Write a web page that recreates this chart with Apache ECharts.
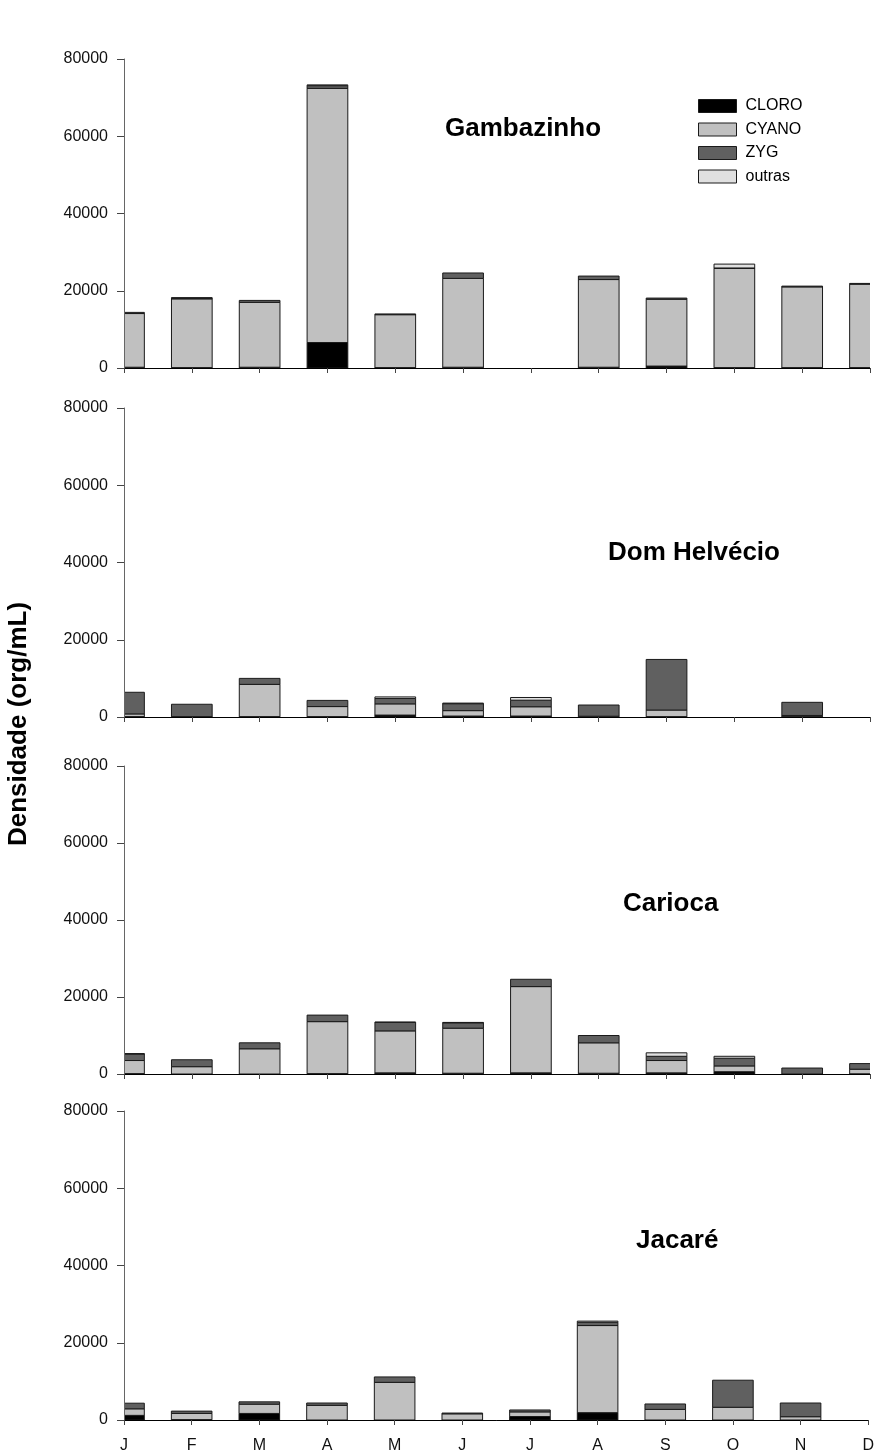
<!DOCTYPE html>
<html>
<head>
<meta charset="utf-8">
<script src="https://cdn.jsdelivr.net/npm/echarts@6/dist/echarts.min.js"></script>
<style>
html,body{margin:0;padding:0;background:#fff;}
#chart{width:877px;height:1455px;}
</style>
</head>
<body>
<div id="chart"></div>
<script>
// ---- DATA ----
const months = ['J','F','M','A','M','J','J','A','S','O','N','D'];
const seriesNames = ['CLORO','CYANO','ZYG','outras'];
const lakeNames = ['Gambazinho','Dom Helvécio','Carioca','Jacaré'];
const yTicks = [0, 20000, 40000, 60000, 80000];
const yAxisTitle = 'Densidade (org/mL)';

const gambazinhoCLORO  = [200, 100, 200, 6600, 100, 200, 0, 200, 500, 100, 100, 100];
const gambazinhoCYANO  = [13900, 17800, 16800, 65800, 13700, 23000, 0, 22700, 17300, 25700, 20900, 21600];
const gambazinhoZYG    = [300, 200, 500, 700, 200, 1400, 0, 900, 300, 100, 200, 200];
const gambazinhoOutras = [0, 100, 0, 200, 0, 0, 0, 0, 0, 1000, 0, 0];

const domHelvecioCLORO  = [100, 0, 100, 100, 500, 250, 250, 0, 100, 0, 100, 0];
const domHelvecioCYANO  = [700, 100, 8350, 2600, 2900, 1400, 2400, 200, 1700, 0, 300, 0];
const domHelvecioZYG    = [5600, 3200, 1550, 1600, 1400, 1800, 1700, 2900, 13100, 0, 3400, 0];
const domHelvecioOutras = [0, 0, 0, 0, 400, 150, 700, 0, 0, 0, 0, 0];

const cariocaCLORO  = [100, 0, 0, 100, 300, 200, 300, 200, 300, 600, 0, 50];
const cariocaCYANO  = [3400, 1900, 6550, 13500, 10900, 11700, 22400, 7900, 3200, 1500, 0, 1200];
const cariocaZYG    = [1700, 1800, 1550, 1700, 2200, 1400, 1900, 1900, 1100, 2000, 1550, 1450];
const cariocaOutras = [100, 0, 0, 0, 100, 100, 0, 0, 900, 500, 0, 0];

const jacareCLORO  = [1200, 100, 1700, 0, 0, 0, 900, 1900, 0, 0, 0, 0];
const jacareCYANO  = [1700, 1600, 2400, 3800, 9750, 1600, 1200, 22550, 2750, 3300, 850, 0];
const jacareZYG    = [1450, 600, 600, 600, 1400, 200, 500, 850, 1400, 7000, 3550, 0];
const jacareOutras = [0, 0, 0, 0, 0, 0, 0, 300, 0, 0, 0, 0];

const panelData = [
  [gambazinhoCLORO, gambazinhoCYANO, gambazinhoZYG, gambazinhoOutras],
  [domHelvecioCLORO, domHelvecioCYANO, domHelvecioZYG, domHelvecioOutras],
  [cariocaCLORO, cariocaCYANO, cariocaZYG, cariocaOutras],
  [jacareCLORO, jacareCYANO, jacareZYG, jacareOutras]
];

// ---- LAYOUT / STYLE ----
const FONT = '"Liberation Sans", Arial, Helvetica, sans-serif';
const colors = ['#000000', '#c0c0c0', '#606060', '#e0e0e0'];
const gridTops = [59, 408, 766, 1111];
const gridHeights = [309, 309, 308, 309];
const titlePos = [[445, 131], [608, 555], [623, 906], [636, 1243]];
const BAR_RATIO = 0.6;

function renderSegment(params, api) {
  const x = api.value(0), lo = api.value(1), hi = api.value(2);
  if (!(hi > lo)) return null;
  const pLo = api.coord([x, lo]);
  const pHi = api.coord([x, hi]);
  const bw = api.size([1, 0], [x, lo])[0] * BAR_RATIO;
  return {
    type: 'rect',
    shape: { x: pLo[0] - bw / 2, y: pHi[1], width: bw, height: pLo[1] - pHi[1] },
    style: api.style()
  };
}

const grids = [], xAxes = [], yAxes = [], series = [], graphics = [];
for (let p = 0; p < 4; p++) {
  grids.push({ left: 124, right: 7, top: gridTops[p], height: gridHeights[p], containLabel: false });
  xAxes.push({
    type: 'category', gridIndex: p, data: months, boundaryGap: false,
    axisLine: { show: true, lineStyle: { color: '#000', width: 1 } },
    axisTick: { show: true, interval: 0, length: 5, lineStyle: { color: '#444' } },
    axisLabel: { show: p === 3, interval: 0, margin: 18, fontSize: 16, color: '#111', fontFamily: FONT },
    splitLine: { show: false }, z: 5
  });
  yAxes.push({
    type: 'value', gridIndex: p, min: yTicks[0], max: yTicks[yTicks.length - 1], interval: 20000,
    axisLine: { show: true, lineStyle: { color: '#666', width: 1 } },
    axisTick: { show: true, length: 7, lineStyle: { color: '#444' } },
    axisLabel: { margin: 16, fontSize: 16, color: '#111', fontFamily: FONT, formatter: v => String(v) },
    splitLine: { show: false }, z: 5
  });
  // stack segments: cumulative bases built from the arrays
  const cum = months.map(() => 0);
  for (let s = 0; s < 4; s++) {
    const vals = panelData[p][s];
    const segs = vals.map((v, i) => { const lo = cum[i]; cum[i] += v; return [i, lo, cum[i]]; });
    series.push({
      name: seriesNames[s], type: 'custom', clip: true,
      xAxisIndex: p, yAxisIndex: p,
      encode: { x: 0, y: 2 },
      data: segs,
      renderItem: renderSegment,
      itemStyle: { color: colors[s], borderColor: '#1a1a1a', borderWidth: 1 },
      emphasis: { disabled: true }, animation: false, silent: true
    });
  }
  graphics.push({
    type: 'text', left: titlePos[p][0], top: titlePos[p][1] - 15,
    style: { text: lakeNames[p], font: 'bold 26px ' + FONT, fill: '#000' }
  });
}
graphics.push({
  type: 'text', x: 19, y: 724, rotation: Math.PI / 2,
  style: { text: yAxisTitle, font: 'bold 26px ' + FONT, fill: '#000', align: 'center', verticalAlign: 'middle' }
});

const chart = echarts.init(document.getElementById('chart'), null, { renderer: 'canvas' });
chart.setOption({
  animation: false,
  backgroundColor: '#fff',
  grid: grids, xAxis: xAxes, yAxis: yAxes, series: series,
  legend: {
    data: seriesNames, orient: 'vertical', left: 698, top: 98, padding: 0,
    itemWidth: 38, itemHeight: 13, itemGap: 7.5, icon: 'rect',
    itemStyle: { borderColor: '#1a1a1a', borderWidth: 1 },
    textStyle: { fontSize: 16, color: '#000', fontFamily: FONT, padding: [0, 0, 0, 4] },
    selectedMode: false
  },
  graphic: graphics
});
</script>
</body>
</html>
